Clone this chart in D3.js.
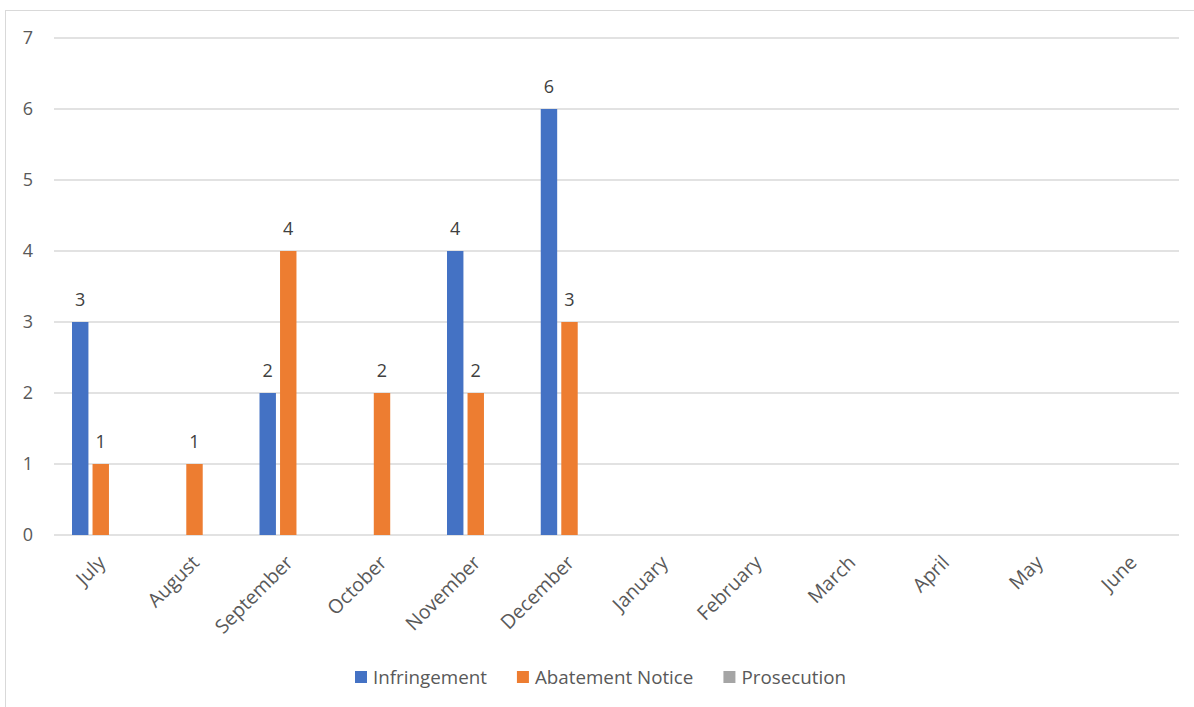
<!DOCTYPE html>
<html><head><meta charset="utf-8">
<script src="https://cdn.jsdelivr.net/npm/d3@7"></script>
<style>body{margin:0;background:#fff}svg{display:block}text{font-family:"Open Sans",sans-serif}</style>
</head><body><svg id="c" width="1194" height="707"></svg>
<script>
const months = ["July","August","September","October","November","December","January","February","March","April","May","June"];
const seriesNames = ["Infringement","Abatement Notice","Prosecution"];
const infringement = [3,0,2,0,4,6,0,0,0,0,0,0];
const abatement = [1,1,4,2,2,3,0,0,0,0,0,0];
const prosecution = [0,0,0,0,0,0,0,0,0,0,0,0];
const yTicks = [0,1,2,3,4,5,6,7];
const colors = ["#4472C4","#ED7D31","#A5A5A5"];

const series = [infringement, abatement, prosecution];
const svg = d3.select("#c");
svg.append("rect").attr("x",5.5).attr("y",10.5).attr("width",1200).attr("height",720)
  .attr("fill","#fff").attr("stroke","#D9D9D9");

const x0 = d3.scaleBand().domain(months).range([54,1179]);
const y = d3.scaleLinear().domain([0,7]).range([535,38]);
const x1 = d3.scaleBand().domain(seriesNames).range([18, 18+57.5]).paddingInner(0.2);

svg.append("g").selectAll("line").data(yTicks).join("line")
  .attr("x1",54).attr("x2",1179).attr("y1",d=>y(d)).attr("y2",d=>y(d))
  .attr("stroke","#D9D9D9").attr("stroke-width",1.3);

svg.append("g").selectAll("text").data(yTicks).join("text")
  .attr("x",28).attr("y",d=>y(d)).attr("dy","0.35em").attr("text-anchor","middle")
  .attr("font-size",18).attr("fill","#595959").text(d=>d);

const g = svg.append("g");
seriesNames.forEach((s,si)=>{
  const data = months.map((m,i)=>({m, v: series[si][i]}));
  g.append("g").selectAll("rect").data(data.filter(d=>d.v>0)).join("rect")
    .attr("x",d=>x0(d.m)+x1(s)).attr("width",x1.bandwidth())
    .attr("y",d=>y(d.v)).attr("height",d=>y(0)-y(d.v)).attr("fill",colors[si]);
  g.append("g").selectAll("text").data(data.filter(d=>d.v>0)).join("text")
    .attr("x",d=>x0(d.m)+x1(s)+x1.bandwidth()/2).attr("y",d=>y(d.v)-16)
    .attr("text-anchor","middle").attr("font-size",18).attr("fill","#404040").text(d=>d.v);
});

svg.append("g").selectAll("text").data(months).join("text")
  .attr("transform",d=>`translate(${x0(d)+x0.bandwidth()/2+1},${559}) rotate(-45)`)
  .attr("text-anchor","end").attr("dy","0.35em").attr("font-size",19.5).attr("fill","#595959").text(d=>d);

const leg = svg.append("g");
let lx = 355;
seriesNames.forEach((s,i)=>{
  leg.append("rect").attr("x",lx).attr("y",671).attr("width",12).attr("height",12).attr("fill",colors[i]);
  const t = leg.append("text").attr("x",lx+18).attr("y",677).attr("dy","0.35em")
    .attr("font-size",18.8).attr("fill","#595959").text(s);
  lx += 18 + t.node().getComputedTextLength() + 30;
});
</script></body></html>
